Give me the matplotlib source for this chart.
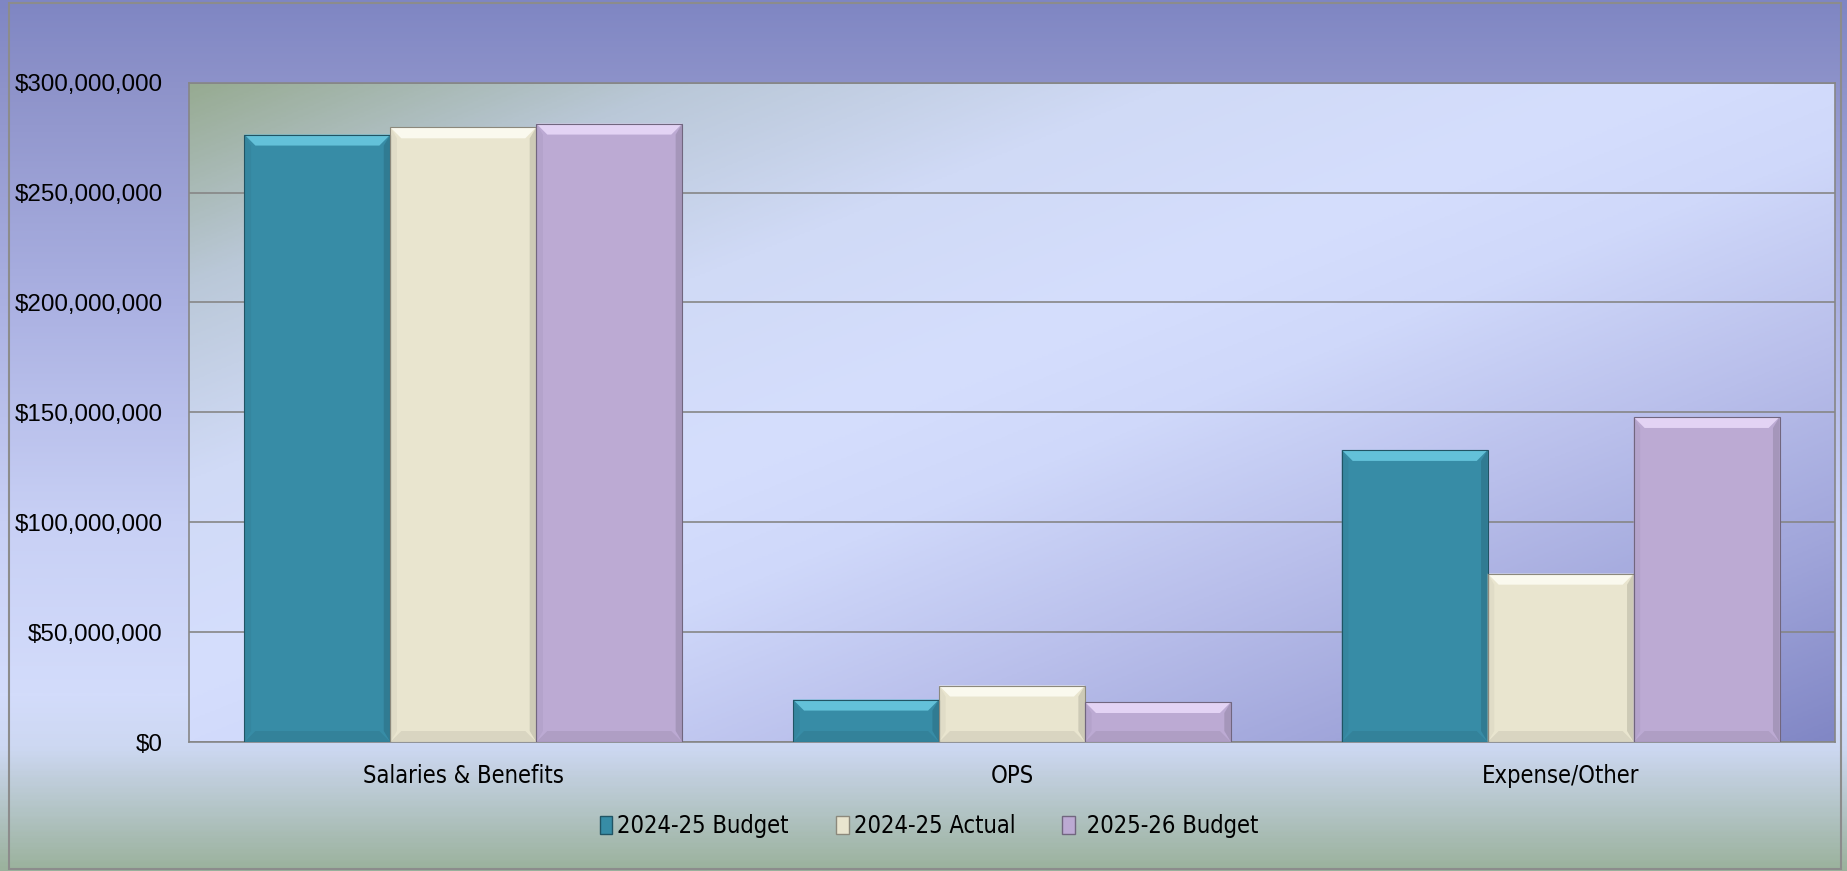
import matplotlib.pyplot as plt
import matplotlib.font_manager as fm
import numpy as np
from matplotlib.colors import LinearSegmentedColormap, to_rgb
from matplotlib.patches import Polygon, Patch, Rectangle
from matplotlib.ticker import FuncFormatter

categories = ["Salaries & Benefits", "OPS", "Expense/Other"]
series_names = ["2024-25 Budget", "2024-25 Actual", " 2025-26 Budget"]
budget_2425 = [276.4e6, 19.3e6, 132.9e6]
actual_2425 = [279.7e6, 25.7e6, 76.6e6]
budget_2526 = [281.4e6, 18.2e6, 147.9e6]
yticks = [0, 50e6, 100e6, 150e6, 200e6, 250e6, 300e6]

face_colors = ["#378ca6", "#e9e5cf", "#bcaad3"]
top_colors = ["#72d2ea", "#fffff8", "#f0e0ff"]

# look for a narrow font for the category / legend text
narrow_file = None
for f in fm.fontManager.ttflist:
    nm = f.name.lower()
    if ("narrow" in nm or "condensed" in nm or f.stretch in ("condensed", "semi-condensed")) \
            and f.style == "normal" and f.weight in (400, "normal", "regular", "book"):
        narrow_file = f.fname
        if "sans" in nm:
            break
if narrow_file:
    narrow_prop = fm.FontProperties(fname=narrow_file, size=17)
else:
    narrow_prop = fm.FontProperties(family="DejaVu Sans", size=15)

regular = ["Liberation Sans", "DejaVu Sans"]

W, H, DPI = 18.47, 8.71, 100
fig = plt.figure(figsize=(W, H), dpi=DPI)

# chart area background, vertical gradient
bg = fig.add_axes([0, 0, 1, 1], zorder=-10)
bg_cmap = LinearSegmentedColormap.from_list("bg", [
    (0.0, "#7f86c3"), (0.1, "#8e93ca"), (0.35, "#abb1e2"), (0.6, "#c8d0f5"),
    (0.8, "#d3dcfb"), (0.86, "#cdd8f2"), (1.0, "#9bb29d")])
grad = np.linspace(0, 1, 400).reshape(-1, 1)
bg.imshow(grad, cmap=bg_cmap, aspect="auto", extent=[0, 1, 0, 1], origin="upper")
bg.add_patch(Rectangle((9 / 1847, 2 / 871), 1832 / 1847, 866 / 871, fill=False,
                       edgecolor="#8c8c8c", lw=1.5))
bg.set_xlim(0, 1)
bg.set_ylim(0, 1)
bg.axis("off")

pos = [189 / 1847, 1 - 742 / 871, (1835 - 189) / 1847, (742 - 82.7) / 871]
ax = fig.add_axes(pos)

# plot area background, diagonal gradient
pa_cmap = LinearSegmentedColormap.from_list("pa", [
    (0.0, "#97ab92"), (0.15, "#bac8d8"), (0.3, "#d0daf6"), (0.45, "#d5defd"),
    (0.55, "#cfd8fa"), (0.7, "#b9bfeb"), (0.85, "#a0a5da"), (1.0, "#8187c5")])
u, v = np.meshgrid(np.linspace(0, 1, 300), np.linspace(0, 1, 300))
ax.imshow((u + v) / 2, cmap=pa_cmap, aspect="auto", extent=[0, 1, 0, 1],
          origin="upper", transform=ax.transAxes, zorder=0)

x = np.arange(len(categories))
bw = 0.266
ax.set_xlim(-0.5, 2.5)
ax.set_ylim(0, 300e6)

# data units per pixel, for bevels
ux = 3 / (pos[2] * W * DPI)
uy = 300e6 / (pos[3] * H * DPI)
bev = 11


def mix(c, t, k):
    c = np.array(to_rgb(c))
    t = np.array(to_rgb(t))
    return tuple(c + (t - c) * k)


series = [budget_2425, actual_2425, budget_2526]
for i, vals in enumerate(series):
    bars = ax.bar(x + (i - 1) * bw, vals, bw, color=face_colors[i], lw=0, zorder=3)
    for r in bars:
        x0, y0 = r.get_x(), r.get_y()
        x1, y1 = x0 + r.get_width(), y0 + r.get_height()
        bx, by = bev * ux, bev * uy
        fc = face_colors[i]
        polys = [
            ([(x0, y1), (x1, y1), (x1 - bx, y1 - by), (x0 + bx, y1 - by)], mix(top_colors[i], fc, 0.25)),
            ([(x0, y0), (x1, y0), (x1 - bx, y0 + by), (x0 + bx, y0 + by)], mix(fc, "black", 0.07)),
            ([(x0, y0), (x0, y1), (x0 + bx * 0.6, y1 - by), (x0 + bx * 0.6, y0 + by)], mix(fc, "black", 0.04)),
            ([(x1, y0), (x1, y1), (x1 - bx * 0.6, y1 - by), (x1 - bx * 0.6, y0 + by)], mix(fc, "black", 0.12)),
        ]
        for pts, col in polys:
            ax.add_patch(Polygon(pts, closed=True, facecolor=col, edgecolor="none", zorder=3.5))
        ax.add_patch(Rectangle((x0, y0), x1 - x0, y1 - y0, fill=False,
                               edgecolor=mix(fc, "black", 0.4), lw=0.8, zorder=3.6))

ax.set_yticks(yticks)
ax.yaxis.set_major_formatter(FuncFormatter(lambda v, p: "${:,.0f}".format(v)))
ax.grid(axis="y", color="#868686", lw=1.2, zorder=1)
ax.set_axisbelow(True)
for s in ax.spines.values():
    s.set_color("#868686")
    s.set_linewidth(1.2)
ax.tick_params(axis="y", length=0, pad=19)
ax.tick_params(axis="x", length=0, pad=16)
ax.set_xticks(x)
ax.set_xticklabels(categories, fontproperties=narrow_prop)
for lab in ax.get_yticklabels():
    lab.set_family(regular)
    lab.set_fontsize(17.4)

handles = [Patch(facecolor=face_colors[i], edgecolor=mix(face_colors[i], "black", 0.4),
                 label=series_names[i]) for i in range(3)]
fig.legend(handles=handles, loc="center", bbox_to_anchor=(0.503, 1 - 826 / 871), ncol=3,
           frameon=False, prop=narrow_prop, handlelength=0.55,
           handleheight=0.8, handletextpad=0.2, columnspacing=2.0)

fig.savefig("out.png", dpi=DPI)
